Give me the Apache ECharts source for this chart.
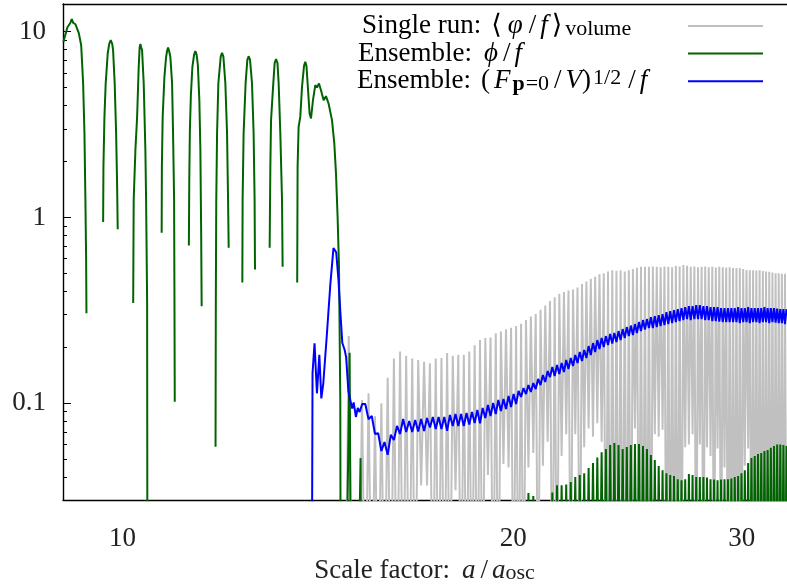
<!DOCTYPE html>
<html><head><meta charset="utf-8">
<script src="https://cdn.jsdelivr.net/npm/echarts@6/dist/echarts.min.js"></script>
<style>html,body{margin:0;padding:0;background:#fff}#c{width:787px;height:587px}</style>
</head><body><div id="c"></div>
<script>
// ---- axis ticks ----
const X_TICKS = [10, 20, 30];
const Y_TICKS = [0.1, 1, 10];
const Y_MINOR = [0.04,0.05,0.06,0.07,0.08,0.09,0.2,0.3,0.4,0.5,0.6,0.7,0.8,0.9,2,3,4,5,6,7,8,9];

// ---- sample grid of the late-time (dense) oscillation data ----
const GRID_X0 = 14.85, GRID_DX = 0.089;

// Ensemble phi/f : early humps read as [a/a_osc, value] ('-' = gap, value <= 0)
const greenHumps = [
 [9.006,8.81],[9.071,10.57],[9.117,11.15],[9.141,11.68],[9.165,11.15],[9.201,10.97],[9.256,9.82],[9.295,8.46],[9.327,5.28],[9.349,2.84],[9.365,1.24],[9.377,0.589],[9.382,0.305],[9.39,'-'],
 [9.664,0.944],[9.669,1.865],[9.686,3.466],[9.708,5.28],[9.743,7.66],[9.769,8.6],[9.795,9.0],[9.821,8.6],[9.836,7.95],[9.864,5.28],[9.889,2.84],[9.906,1.53],[9.917,0.865],[9.92,'-'],
 [10.193,0.346],[10.202,1.24],[10.233,2.30],[10.264,3.47],[10.293,6.44],[10.31,8.2],[10.324,8.6],[10.338,8.25],[10.355,7.95],[10.385,5.28],[10.416,2.30],[10.429,1.24],[10.448,0.359],[10.461,0.0001],[10.47,'-'],
 [10.721,0.826],[10.725,1.865],[10.740,3.466],[10.773,5.69],[10.805,7.29],[10.825,7.9],[10.844,8.22],[10.863,7.9],[10.888,7.29],[10.921,5.28],[10.940,2.84],[10.960,1.24],[10.967,0.359],[10.973,0.1018],[10.98,'-'],
 [11.251,0.707],[11.259,1.588],[11.271,2.95],[11.291,4.55],[11.321,6.44],[11.355,7.5],[11.381,7.88],[11.407,7.5],[11.432,6.60],[11.462,4.28],[11.483,2.30],[11.499,0.823],[11.509,0.333],[11.52,'-'],
 [11.796,0.0582],[11.802,0.359],[11.811,1.239],[11.828,2.84],[11.855,5.28],[11.905,7.35],[11.933,7.69],[11.961,7.35],[12.003,5.28],[12.039,2.84],[12.061,1.24],[12.074,0.686],[12.08,'-'],
 [12.370,0.447],[12.376,1.24],[12.398,2.84],[12.442,5.28],[12.48,7.05],[12.509,7.38],[12.54,7.05],[12.584,5.28],[12.620,2.84],[12.642,1.24],[12.651,0.525],[12.66,'-'],
 [12.984,0.686],[13.000,1.872],[13.016,3.34],[13.063,5.046],[13.10,6.8],[13.132,7.11],[13.165,6.8],[13.193,5.28],[13.232,2.84],[13.272,1.24],[13.286,0.542],[13.29,'-'],
 [13.634,0.447],[13.644,1.872],[13.668,3.074],[13.709,3.478],[13.751,5.046],[13.80,6.55],[13.831,6.879],[13.86,6.55],[13.888,5.28],[13.937,3.628],[13.972,3.41],[14.021,4.28],[14.079,5.153],[14.121,5.009],[14.171,5.264],[14.222,4.843],[14.288,4.28],[14.348,4.496],[14.414,4.107],[14.502,3.34],[14.561,2.512],[14.605,1.732],[14.647,1.0075],[14.683,0.542],[14.717,0.104],[14.743,0.0001],
 [14.962,0.187],[15.045,0.0001],[15.256,0.0506],[15.30,0.0001]
];
// Ensemble phi/f on the sample grid, from grid index 63
const GREEN_TAIL_START = 63;
const greenTail = [
 0.005,0.0328,0.005,0.0316,0.005,0.02,0.005,0.02,0.005,0.025,0.005,0.033,0.005,0.0362,0.005,0.0362,0.005,0.0365,
 0.005,0.0376,0.005,0.040,0.005,0.041,0.005,0.042,0.005,0.0447,0.005,0.0476,0.005,0.051,0.005,0.0545,0.005,0.0566,
 0.005,0.0595,0.005,0.061,0.005,0.0595,0.005,0.0566,0.005,0.058,0.005,0.0595,0.005,0.0602,0.005,0.0602,0.005,0.0588,
 0.005,0.0566,0.005,0.0526,0.005,0.0494,0.005,0.0459,0.005,0.0436,0.005,0.042,0.005,0.041,0.005,0.0405,0.005,0.039,
 0.005,0.0385,0.005,0.039,0.005,0.0415,0.005,0.041,0.005,0.040,0.005,0.040,0.005,0.040,0.005,0.0398,0.005,0.039,
 0.005,0.0388,0.005,0.0385,0.005,0.0388,0.005,0.039,0.005,0.039,0.005,0.0393,0.005,0.040,0.005,0.0405,0.005,0.042,
 0.005,0.0436,0.005,0.0476,0.005,0.0506,0.005,0.052,0.005,0.0532,0.005,0.0539,0.005,0.0553,0.005,0.056,0.005,0.0575,
 0.005,0.0588,0.005,0.0599,0.005,0.0599,0.005,0.0595,0.005,0.0588
];

// Single run <phi/f>_volume on the sample grid, from grid index 0
const grayRun = [
 0.005,0.23,0.005,0.008,0.005,0.104,0.005,0.113,0.005,0.085,
 0.005,0.10,0.005,0.137,0.005,0.174,0.005,0.19,0.005,0.18,
 0.005,0.174,0.005,0.171,0.036,0.167,0.036,0.164,0.005,0.174,
 0.005,0.175,0.005,0.186,0.005,0.18,0.034,0.182,0.005,0.182,
 0.005,0.19,0.005,0.205,0.005,0.219,0.005,0.224,0.041,0.226,
 0.005,0.238,0.005,0.243,0.047,0.25,0.045,0.255,0.005,0.26,
 0.005,0.268,0.005,0.28,0.045,0.293,0.054,0.302,0.005,0.318,
 0.046,0.336,0.062,0.355,0.005,0.372,0.005,0.388,0.052,0.397,
 0.068,0.404,0.005,0.409,0.068,0.42,0.005,0.438,0.058,0.452,
 0.073,0.467,0.066,0.48,0.078,0.494,0.062,0.5,0.005,0.512,
 0.005,0.52,0.005,0.517,0.005,0.52,0.005,0.512,0.005,0.52,
 0.005,0.528,0.073,0.536,0.005,0.542,0.005,0.542,0.005,0.542,
 0.005,0.545,0.068,0.542,0.066,0.54,0.072,0.545,0.005,0.542,
 0.005,0.54,0.005,0.548,0.005,0.545,0.005,0.554,0.058,0.55,
 0.06,0.542,0.068,0.545,0.005,0.54,0.06,0.542,0.005,0.545,
 0.058,0.54,0.052,0.542,0.005,0.538,0.057,0.542,0.005,0.54,
 0.045,0.538,0.005,0.54,0.005,0.535,0.005,0.535,0.005,0.532,
 0.005,0.528,0.046,0.522,0.057,0.52,0.005,0.52,0.005,0.518,
 0.005,0.52,0.005,0.515,0.005,0.512,0.005,0.51,0.005,0.505,
 0.005,0.5,0.005,0.5,0.005,0.498,0.005,0.498,0.005
];

// Ensemble (F_p=0/V)^(1/2)/f : onset read as [a/a_osc, value]
const blueHead = [
 [13.98,0.001],[14.01,0.145],[14.06,0.21],[14.12,0.113],[14.18,0.182],[14.23,0.106],[14.28,0.128],[14.37,0.233],
 [14.46,0.438],[14.54,0.684],[14.57,0.70],[14.61,0.65],[14.67,0.46],[14.72,0.306],[14.77,0.211],[14.83,0.194],
 [14.87,0.177],[14.93,0.116],[14.98,0.114],[15.03,0.0935],[15.07,0.101],[15.13,0.0843],[15.18,0.0942],[15.23,0.0897],[15.30,0.099]
];
// ... then on the sample grid, from grid index 6
const BLUE_TAIL_START = 6;
const blueTail = [
 0.099,0.082,0.0853,0.0683,0.069,0.0553,0.0618,0.0527,0.0675,0.0634,
 0.0754,0.0683,0.0822,0.070,0.0802,0.070,0.0812,0.0704,0.0822,0.0708,
 0.0832,0.074,0.0843,0.0726,0.0843,0.0726,0.0843,0.071,0.0864,0.0754,
 0.0875,0.0754,0.0875,0.0754,0.0886,0.0768,0.0897,0.0782,0.0919,0.078,
 0.0942,0.0832,0.0978,0.0853,0.1002,0.0875,0.104,0.0908,0.1053,0.093,
 0.1093,0.0954,0.112,0.099,0.1163,0.108,0.1207,0.112,0.1252,0.1149,
 0.1284,0.1192,0.135,0.1252,0.1417,0.130,0.149,0.1383,0.1565,0.140,
 0.1605,0.1435,0.1645,0.1471,0.1707,0.1527,0.175,0.1585,0.1817,0.1645,
 0.1885,0.1686,0.1932,0.175,0.203,0.1817,0.2107,0.1885,0.2187,0.1956,
 0.2242,0.2005,0.2298,0.2055,0.2356,0.2094,0.2385,0.2133,0.2445,0.2187,
 0.2506,0.2242,0.2569,0.2298,0.2617,0.2327,0.2666,0.2385,0.2733,0.2445,
 0.2802,0.249,0.2837,0.2537,0.2908,0.2537,0.2944,0.2569,0.298,0.2601,
 0.3018,0.2633,0.3093,0.2666,0.3132,0.270,0.3171,0.2733,0.321,0.2767,
 0.325,0.2802,0.329,0.2837,0.3332,0.2802,0.3332,0.2837,0.3374,0.2837,
 0.3374,0.2837,0.3332,0.2802,0.3332,0.2802,0.329,0.2767,0.329,0.2767,
 0.329,0.275,0.325,0.2733,0.325,0.2733,0.325,0.2733,0.325,0.2733,
 0.325,0.2733,0.329,0.270,0.325,0.2733,0.325,0.2733,0.329,0.270,
 0.325,0.2733,0.325,0.2733,0.325,0.270,0.325,0.2733,0.329,0.2733,
 0.325,0.270,0.325,0.2733,0.325,0.2716,0.323,0.270,0.321,0.270,
 0.321,0.2666,0.321
];

const gridX = i => +(GRID_X0 + GRID_DX * i).toFixed(4);
const grayData = grayRun.map((v, i) => [gridX(i), v]);
const greenData = greenHumps.concat(greenTail.map((v, k) => [gridX(k + GREEN_TAIL_START), v]));
const blueData = blueHead.concat(blueTail.map((v, k) => [gridX(k + BLUE_TAIL_START), v]));

const COLORS = {gray: '#c0c0c0', green: '#006400', blue: '#0000ff'};
const FONT = '"Liberation Serif", "DejaVu Serif", serif';
const FS = 27, FSS = 22;
const TXT = '#222';
const base = {fontFamily: FONT, fontSize: FS, color: TXT, lineHeight: 28};
const small = {fontFamily: FONT, fontSize: FSS, color: TXT};
const rich = {
  t: Object.assign({}, base),
  i: Object.assign({fontStyle: 'italic'}, base),
  ip: Object.assign({fontStyle: 'italic', padding: [0, 2, 0, 2]}, base),
  im: Object.assign({fontStyle: 'italic', padding: [0, 1, 0, 12]}, base),
  bo: Object.assign({padding: [0, 4, 0, 10]}, base),
  bc: Object.assign({padding: [0, 3, 0, 4]}, base),
  sl: Object.assign({padding: [0, 4, 0, 4]}, base),
  sub: Object.assign({lineHeight: 14, verticalAlign: 'bottom', padding: [0, 1, 0, 0]}, small),
  subb: Object.assign({lineHeight: 14, verticalAlign: 'bottom', fontWeight: 'bold', padding: [0, 1, 0, 2]}, small),
  sup: Object.assign({lineHeight: 12, verticalAlign: 'top', padding: [0, 3, 0, 2]}, small)
};
const legendRows = [
  {key: 'gray',  x: 362, text: '{t|Single run:}{bo|⟨}{ip|φ}{sl|/}{i|f}{bc|⟩}{sub|volume}'},
  {key: 'green', x: 358, text: '{t|Ensemble:}{im|ϕ}{sl|/}{i|f}'},
  {key: 'blue',  x: 357, text: '{t|Ensemble:}{bo|(}{i|F}{subb|p}{sub|=0}{sl|/}{i|V}{t|)}{sup|1/2}{sl|/}{i|f}'}
];
const LEGEND_LINE_X = [688, 763], LEGEND_Y0 = 26, LEGEND_DY = 27.6;
const legendGraphics = [];
legendRows.forEach((r, k) => {
  const y = LEGEND_Y0 + k * LEGEND_DY;
  legendGraphics.push({type: 'text', x: r.x, y: y, z: 100,
    style: {text: r.text, rich: rich, align: 'left', verticalAlign: 'middle'}});
  legendGraphics.push({type: 'line', z: 100,
    shape: {x1: LEGEND_LINE_X[0], y1: y, x2: LEGEND_LINE_X[1], y2: y},
    style: {stroke: COLORS[r.key], lineWidth: 2}});
});

const AXIS_LINE = {show: true, onZero: false, lineStyle: {color: '#000', width: 1.4}};
const X_MIN = 9, X_MAX = 32.5, Y_MIN = 0.03, Y_MAX = 14.1;

const chart = echarts.init(document.getElementById('c'), null, {renderer: 'canvas'});
chart.setOption({
  animation: false,
  backgroundColor: '#fff',
  grid: {left: 63, right: 0, top: 4, bottom: 86.7, containLabel: false, outerBoundsMode: 'none'},
  graphic: legendGraphics,
  xAxis: [{
    type: 'log', logBase: 10, min: X_MIN, max: X_MAX, position: 'bottom',
    axisLine: AXIS_LINE, axisTick: {show: false}, splitLine: {show: false},
    axisLabel: {customValues: X_TICKS, fontFamily: FONT, fontSize: FS, color: TXT, margin: 25},
    name: '{t|Scale factor:}{im|a}{sl|/}{i|a}{sub|osc}',
    nameLocation: 'middle', nameGap: 56, nameTextStyle: {rich: rich}
  }, {
    type: 'log', logBase: 10, min: X_MIN, max: X_MAX, position: 'top',
    axisLine: AXIS_LINE, axisTick: {show: false}, axisLabel: {show: false}, splitLine: {show: false}
  }],
  yAxis: [{
    type: 'log', logBase: 10, min: Y_MIN, max: Y_MAX, position: 'left',
    axisLine: AXIS_LINE, splitLine: {show: false},
    axisTick: {show: true, inside: true, length: 8, customValues: Y_TICKS, lineStyle: {color: '#000', width: 1}},
    axisLabel: {customValues: Y_TICKS, fontFamily: FONT, fontSize: FS, color: TXT, margin: 17}
  }, {
    type: 'log', logBase: 10, min: Y_MIN, max: Y_MAX, position: 'left', offset: 0,
    axisLine: {show: false}, splitLine: {show: false}, axisLabel: {show: false},
    axisTick: {show: true, inside: true, length: 4, customValues: Y_MINOR, lineStyle: {color: '#000', width: 1}}
  }],
  series: [
    {name: 'gray', type: 'line', data: grayData, symbol: 'none', clip: true,
     lineStyle: {color: COLORS.gray, width: 2, join: 'bevel'}},
    {name: 'green', type: 'line', data: greenData, symbol: 'none', clip: true, connectNulls: false,
     lineStyle: {color: COLORS.green, width: 2, join: 'bevel'}},
    {name: 'blue', type: 'line', data: blueData, symbol: 'none', clip: true,
     lineStyle: {color: COLORS.blue, width: 2, join: 'bevel'}}
  ]
});
</script></body></html>
